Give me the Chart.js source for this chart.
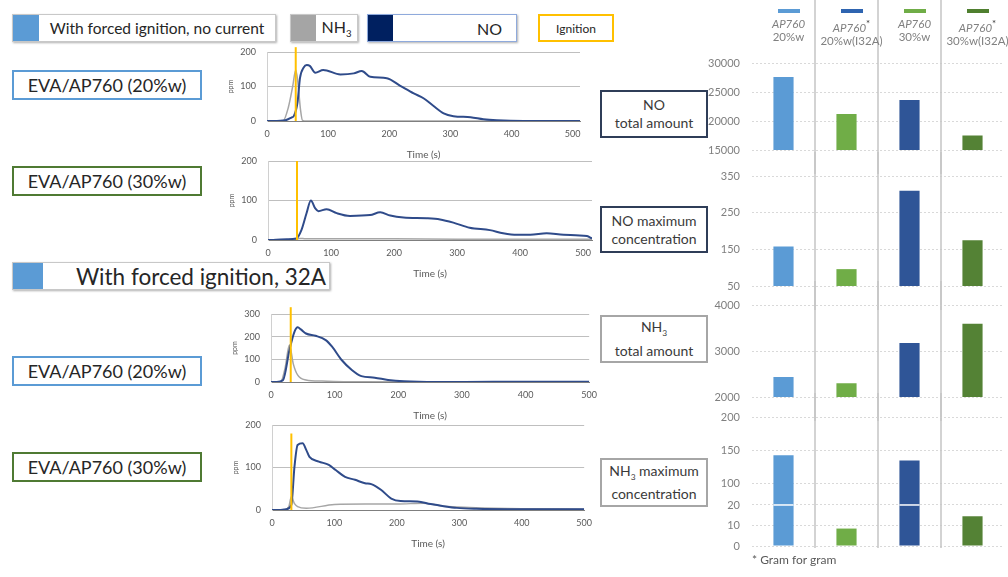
<!DOCTYPE html>
<html>
<head>
<meta charset="utf-8">
<script src="https://cdn.jsdelivr.net/npm/chart.js@4"></script>
<style>
  body { margin: 0; width: 1008px; height: 577px; position: relative; background: #fff; overflow: hidden;
         font-family: Lato, 'Open Sans', sans-serif; color: #262626; }
  canvas { position: absolute; }
  .box { position: absolute; box-sizing: border-box; display: flex; align-items: center; justify-content: center;
         background: #fff; text-align: center; white-space: nowrap; }
  .sw { position: absolute; left: 0; top: 0; bottom: 0; }
  .leg { border: 1px solid #c8c8c8; box-shadow: 1px 1px 2px #b0b0b0; }
  .eva { font-size: 18px; border: 2px solid; }
  .mid { font-size: 14px; line-height: 18px; color: #3a3a3a; }
  .hdr { position: absolute; top: 0; left: 757px; display: flex; font-size: 11.5px; color: #808080; }
  .hdr div { width: 63px; text-align: center; line-height: 13px; white-space: nowrap; }
  .hdr i { display: block; margin: 9px auto 4px; width: 22px; height: 4px; }
  sub { font-size: 60%; }
</style>
</head>
<body>
<!-- legends / labels on the left -->
<div class="box leg" style="left:12px;top:14px;width:264px;height:28px;font-size:15.5px;padding-left:26px">
  <span class="sw" style="width:26px;background:#5b9bd5"></span><span>With forced ignition, no current</span></div>
<div class="box leg" style="left:290px;top:14px;width:68px;height:28px;font-size:16px;padding-left:25px">
  <span class="sw" style="width:25px;background:#a5a5a5"></span><span>NH<sub>3</sub></span></div>
<div class="box leg" style="left:367px;top:14px;width:150px;height:28px;font-size:16px;padding-left:95px;border-color:#8faadc">
  <span class="sw" style="width:25px;background:#002060"></span><span>NO</span></div>
<div class="box" style="left:538px;top:14px;width:76px;height:28px;font-size:12px;border:2px solid #ffc000"><span>Ignition</span></div>

<div class="box eva" style="left:12px;top:70px;width:190px;height:30px;border-color:#5b9bd5"><span>EVA/AP760 (20%w)</span></div>
<div class="box eva" style="left:12px;top:166px;width:190px;height:30px;border-color:#4f7a33"><span>EVA/AP760 (30%w)</span></div>
<div class="box leg" style="left:12px;top:262px;width:318px;height:28px;font-size:22.5px;padding-left:60px">
  <span class="sw" style="width:30px;background:#5b9bd5"></span><span>With forced ignition, 32A</span></div>
<div class="box eva" style="left:12px;top:356px;width:190px;height:30px;border-color:#5b9bd5"><span>EVA/AP760 (20%w)</span></div>
<div class="box eva" style="left:12px;top:452px;width:190px;height:30px;border-color:#4f7a33"><span>EVA/AP760 (30%w)</span></div>

<!-- middle labels -->
<div class="box mid" style="left:600px;top:90px;width:108px;height:48px;border:2px solid #2f3d58"><div>NO<br>total amount</div></div>
<div class="box mid" style="left:600px;top:206px;width:108px;height:47px;border:2px solid #2f3d58"><div>NO maximum<br>concentration</div></div>
<div class="box mid" style="left:600px;top:315px;width:108px;height:48px;border:2px solid #a6a6a6"><div>NH<sub>3</sub><br>total amount</div></div>
<div class="box mid" style="left:600px;top:458px;width:108px;height:49px;border:2px solid #a6a6a6"><div>NH<sub>3</sub> maximum<br>concentration</div></div>

<!-- line charts -->
<canvas id="l1" width="363" height="129" style="left:227px;top:32px"></canvas>
<canvas id="l2" width="374" height="139" style="left:228px;top:141px"></canvas>
<canvas id="l3" width="374" height="128" style="left:231px;top:294px"></canvas>
<canvas id="l4" width="368" height="145" style="left:232px;top:405px"></canvas>

<!-- bar charts -->
<canvas id="b1" width="306" height="174" style="left:700px;top:0px"></canvas>
<canvas id="b2" width="306" height="158" style="left:700px;top:152px"></canvas>
<canvas id="b3" width="306" height="140" style="left:700px;top:281px"></canvas>
<canvas id="b4" width="306" height="177" style="left:700px;top:393px"></canvas>

<div class="hdr">
  <div><i style="background:#5b9bd5"></i><em>AP760</em><br>20%w</div>
  <div><i style="background:#2e64b0"></i><em>AP760</em><sup style="color:#333">*</sup><br>20%w(I32A)</div>
  <div><i style="background:#70ad47"></i><em>AP760</em><br>30%w</div>
  <div><i style="background:#4f7f2f"></i><em>AP760</em><sup style="color:#333">*</sup><br>30%w(I32A)</div>
</div>
<div style="position:absolute;left:752px;top:552px;font-size:12px;color:#595959">* Gram for gram</div>

<script>
Chart.defaults.font.family = "Lato, 'Open Sans', sans-serif";
Chart.defaults.animation = false;

// --- time series (s, ppm) ---
// EVA/AP760 20%w, no current
const t1No  = [0, 10, 30, 40, 44, 50, 54, 60, 65, 70, 79, 92, 120, 142, 155, 169, 196, 218, 240, 256, 272, 289, 305, 333, 354, 376, 420, 512];
const no1   = [0, 0, 2, 10, 15, 55, 125, 155, 162, 160, 140, 148, 135, 138, 145, 128, 124, 102, 80, 66, 44, 22, 14, 11, 5, 2, 0, 0];
const t1Nh3 = [0, 20, 26, 35, 42, 47, 50, 55, 58, 65, 512];
const nh31  = [0, 0, 0, 40, 100, 148, 120, 30, 2, 0, 0];
// EVA/AP760 30%w, no current
const t2No  = [0, 8, 30, 45, 53, 61, 68, 75, 80, 93, 109, 130, 162, 178, 194, 215, 252, 273, 294, 320, 352, 373, 395, 416, 442, 469, 506, 514];
const no2   = [0, 0, 2, 4, 25, 67, 100, 80, 73, 78, 68, 61, 63, 70, 62, 57, 55, 52, 44, 31, 25, 17, 13, 13, 17, 13, 10, 4];
const t2Nh3 = [0, 40, 50, 60, 100, 200, 300, 400, 514];
const nh32  = [0, 0, 4, 3, 3, 3, 2, 2, 2];
// EVA/AP760 20%w, 32A
const t3No  = [0, 9, 19, 29, 37, 42, 47, 55, 70, 86, 96, 111, 127, 142, 163, 184, 209, 260, 350, 500];
const no3   = [0, 0, 9, 141, 222, 241, 232, 214, 204, 185, 156, 97, 53, 26, 19, 9, 3, 0, 1, 1];
const t3Nh3 = [0, 15, 22, 29, 35, 42, 55, 80, 120, 500];
const nh33  = [0, 0, 60, 163, 80, 30, 9, 4, 1, 0];
// EVA/AP760 30%w, 32A
const t4No  = [0, 10, 23, 31, 36, 41, 49, 55, 60, 75, 91, 102, 117, 133, 149, 159, 175, 191, 206, 233, 254, 275, 296, 327, 400, 500];
const no4   = [0, 0, 2, 12, 102, 153, 157, 141, 125, 114, 106, 94, 78, 71, 63, 61, 47, 27, 21, 20, 14, 9, 5, 3, 2, 2];
const t4Nh3 = [0, 20, 27, 31, 36, 41, 55, 100, 150, 200, 243, 275, 317, 400, 500];
const nh34  = [0, 0, 8, 31, 15, 8, 4, 13, 14, 14, 16, 9, 6, 3, 2];
// ignition time and how high the marker goes
const ignTime = [47, 46, 31, 31];
const ignTop  = [214, 200, 330, 180];

// --- bar values ---
const materials = ['AP760 20%w', 'AP760 20%w(I32A)', 'AP760 30%w', 'AP760 30%w(I32A)'];
const noTotal   = [27600, 21200, 23600, 17500];
const noMax     = [158, 96, 310, 175];
const nh3Total  = [2435, 2300, 3175, 3590];
const nh3Max    = [142, 8.5, 134, 14.5];
const nh3MaxTicks = [0, 10, 20, 100, 150, 200];
const barColors = ['#5b9bd5', '#70ad47', '#2f5597', '#548235'];

const grey = '#595959';
const pts = (t, v) => t.map((x, i) => ({ x: x, y: v[i] }));

function lineChart(id, k, tNo, no, tNh3, nh3, xMax, yMax) {
  new Chart(document.getElementById(id), {
    type: 'line',
    data: {
      datasets: [
        { label: 'Ignition', data: [{ x: ignTime[k], y: 0 }, { x: ignTime[k], y: ignTop[k] }],
          borderColor: '#ffc000', borderWidth: 2, pointRadius: 0, clip: false },
        { label: 'NO', data: pts(tNo, no), borderColor: '#2f4b8a', borderWidth: 2,
          pointRadius: 0, cubicInterpolationMode: 'monotone' },
        { label: 'NH3', data: pts(tNh3, nh3), borderColor: '#a6a6a6', borderWidth: 1.5,
          pointRadius: 0, cubicInterpolationMode: 'monotone' }
      ]
    },
    options: {
      responsive: false,
      layout: { padding: { top: 20, right: 10 } },
      plugins: { legend: { display: false }, tooltip: { enabled: false } },
      scales: {
        x: {
          type: 'linear', min: 0, max: xMax,
          ticks: { stepSize: 100, includeBounds: false, maxRotation: 0, padding: 8, color: grey, font: { size: 9 } },
          grid: { display: false, drawTicks: false },
          border: { color: '#7f7f7f' },
          title: { display: true, text: 'Time (s)', color: grey, font: { size: 10 }, padding: 0 },
          afterFit: s => { s.height = 40; }
        },
        y: {
          min: 0, max: yMax,
          ticks: { stepSize: 100, padding: 11, color: grey, font: { size: 9 } },
          grid: { color: '#bfbfbf', drawTicks: false },
          border: { color: '#d0d0d0' },
          title: { display: true, text: 'ppm', color: grey, font: { size: 7 }, padding: 0 },
          afterFit: s => { s.width = 40; }
        }
      }
    }
  });
}

lineChart('l1', 0, t1No, no1, t1Nh3, nh31, 512, 200);
lineChart('l2', 1, t2No, no2, t2Nh3, nh32, 514, 200);
lineChart('l3', 2, t3No, no3, t3Nh3, nh33, 500, 300);
lineChart('l4', 3, t4No, no4, t4Nh3, nh34, 500, 200);

// y scale with a broken range (0-20 stretched, 20-100 squeezed)
class BrokenScale extends Chart.LinearScale {
  buildTicks() { return this.options.fixedTicks.map(v => ({ value: v })); }
  getPixelForValue(v) {
    const b = this.options.breaks, f = this.options.fractions;
    let d = 0;
    for (let i = 1; i < b.length; i++) {
      if (v <= b[i] || i === b.length - 1) {
        d = f[i - 1] + (v - b[i - 1]) / (b[i] - b[i - 1]) * (f[i] - f[i - 1]);
        break;
      }
    }
    return this.getPixelForDecimal(d);
  }
}
BrokenScale.id = 'broken';
Chart.register(BrokenScale);

// vertical separators between the materials
const dividers = {
  id: 'dividers',
  beforeDatasetsDraw(chart, args, opts) {
    const x = chart.scales.x, ctx = chart.ctx;
    const bottom = opts.toArea ? chart.chartArea.bottom + 2 : chart.height;
    ctx.save();
    ctx.strokeStyle = '#c4c4c4';
    ctx.lineWidth = 1.5;
    for (let i = 1; i < materials.length; i++) {
      const px = Math.round(x.getPixelForValue(i - 0.5));
      ctx.beginPath(); ctx.moveTo(px, 0); ctx.lineTo(px, bottom); ctx.stroke();
    }
    ctx.restore();
  }
};

// white mark where the bars cross the axis break
const breakMark = {
  id: 'breakMark',
  afterDatasetsDraw(chart) {
    const y = chart.scales.y, ctx = chart.ctx, py = y.getPixelForValue(20);
    ctx.save();
    ctx.strokeStyle = '#fff';
    ctx.lineWidth = 1.5;
    chart.getDatasetMeta(0).data.forEach((bar, i) => {
      if (nh3Max[i] > 20) {
        ctx.beginPath(); ctx.moveTo(bar.x - bar.width / 2, py); ctx.lineTo(bar.x + bar.width / 2, py); ctx.stroke();
      }
    });
    ctx.restore();
  }
};

const barTicks = { padding: 12, color: '#7f7f7f', font: { size: 11 }, callback: v => String(v) };

function barChart(id, values, yScale, padTop, toArea, extra) {
  new Chart(document.getElementById(id), {
    type: 'bar',
    data: { labels: materials, datasets: [{ data: values, backgroundColor: barColors, barPercentage: 0.32, categoryPercentage: 1 }] },
    options: {
      responsive: false,
      layout: { padding: { top: padTop, bottom: 24, right: 2 } },
      plugins: { legend: { display: false }, tooltip: { enabled: false }, dividers: { toArea: toArea } },
      scales: {
        x: { display: false },
        y: Object.assign({
          grid: { color: '#d9d9d9', drawTicks: false },
          border: { display: false, dash: [2, 2] },
          afterFit: s => { s.width = 52; }
        }, yScale)
      }
    },
    plugins: [dividers].concat(extra || [])
  });
}

barChart('b1', noTotal, { min: 15000, max: 30000, ticks: Object.assign({ stepSize: 5000 }, barTicks) }, 63, false);
barChart('b2', noMax, { min: 50, max: 350, ticks: Object.assign({ stepSize: 100 }, barTicks) }, 24, false);
barChart('b3', nh3Total, { min: 2000, max: 4000, ticks: Object.assign({ stepSize: 1000 }, barTicks) }, 24, false);
barChart('b4', nh3Max, { type: 'broken', min: 0, max: 200, fixedTicks: nh3MaxTicks,
  breaks: [0, 20, 100, 200], fractions: [0, 0.318, 0.488, 1], ticks: barTicks }, 24, true, [breakMark]);
</script>
</body>
</html>
